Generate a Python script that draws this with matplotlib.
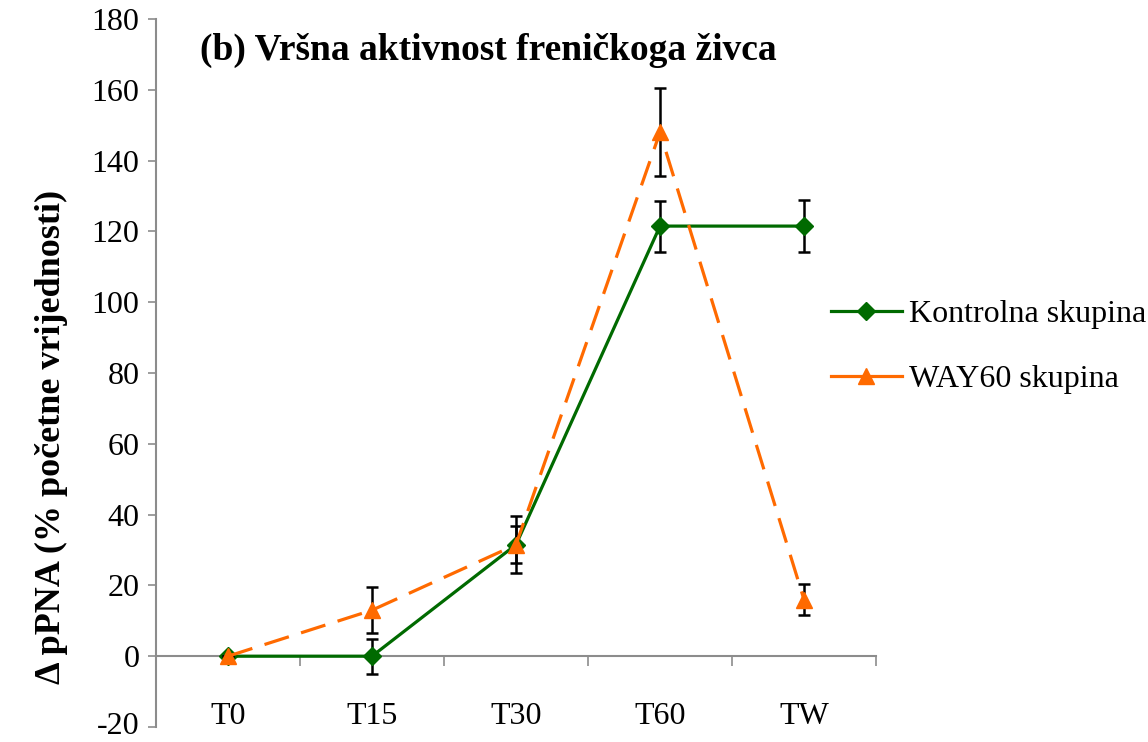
import numpy as np
import matplotlib.pyplot as plt
from matplotlib.lines import Line2D

# Podaci
kategorije = ["T0", "T15", "T30", "T60", "TW"]
kontrola = [0, 0, 31.5, 121.5, 121.5]
kontrola_err = [0, 5, 8, 7.2, 7.3]
way60 = [0, 13, 31.5, 148, 16]
way60_err = [0, 6.5, 5.3, 12.4, 4.5]
y_ticks = [-20, 0, 20, 40, 60, 80, 100, 120, 140, 160, 180]

plt.rcParams['font.family'] = ['Liberation Serif', 'DejaVu Serif']
plt.rcParams['axes.unicode_minus'] = False

fig = plt.figure(figsize=(11.48, 7.42), dpi=100)
ax = fig.add_axes([156 / 1148, 1 - 727 / 742, 720 / 1148, 708 / 742])

x = np.arange(len(kategorije))
gray = "#8c8c8c"
zelena = "#006a00"
narancasta = "#ff6a00"

ax.errorbar(x, kontrola, yerr=kontrola_err, color=zelena, lw=2.3,
            marker="D", ms=9, ecolor="black", elinewidth=1.8, capsize=4.5,
            capthick=1.8, zorder=3)
ax.errorbar(x, way60, yerr=way60_err, color=narancasta, lw=2.3,
            dashes=(8, 4), marker="^", ms=11, ecolor="black", elinewidth=1.8,
            capsize=4.5, capthick=1.8, zorder=4)

ax.set_xlim(-0.5, len(kategorije) - 0.5)
ax.set_ylim(-20, 180)
ax.set_yticks(y_ticks)
ax.tick_params(axis="y", labelsize=23, length=6, width=1.2, color=gray, pad=6)
# donja oznaka malo gore da ne bude odrezana
ax.get_yticklabels()[0].set_va("center")

# kategorije na sredini, crtice na granicama
ax.set_xticks(np.arange(len(kategorije)) + 0.5)
ax.set_xticklabels([])
ax.tick_params(axis="x", which="major", length=7, width=1.2, color=gray, direction="out")
ax.set_xticks(x, minor=True)
ax.set_xticklabels(kategorije, minor=True)
ax.tick_params(axis="x", which="minor", length=0, labelsize=23, pad=33)

ax.spines["top"].set_visible(False)
ax.spines["right"].set_visible(False)
ax.spines["left"].set_color(gray)
ax.spines["left"].set_linewidth(1.5)
ax.spines["bottom"].set_position(("data", 0))
ax.spines["bottom"].set_color(gray)
ax.spines["bottom"].set_linewidth(1.5)

ax.set_ylabel("Δ pPNA (% početne vrijednosti)", fontsize=26, fontweight="bold")
ax.yaxis.set_label_coords(-0.122, 0.41)
ax.text(0.061, 0.955, "(b) Vršna aktivnost freničkoga živca", transform=ax.transAxes,
        fontsize=27, fontweight="bold", va="center", ha="left")

rucke = [
    Line2D([], [], color=zelena, lw=2.3, marker="D", ms=9),
    Line2D([], [], color=narancasta, lw=2.3, marker="^", ms=11),
]
ax.legend(rucke, ["Kontrolna skupina", "WAY60 skupina"], loc="center left",
          bbox_to_anchor=(0.898, 0.537), frameon=False, fontsize=23,
          handlelength=2.2, labelspacing=1.12, handletextpad=0.22)

fig.savefig("out.png", dpi=100)
